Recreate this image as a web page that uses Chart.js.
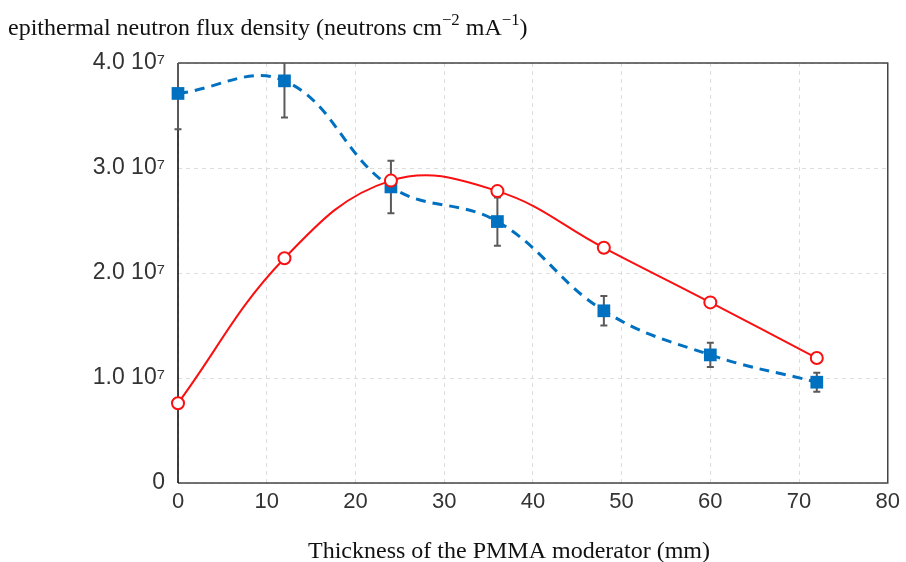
<!DOCTYPE html>
<html lang="en">
<head>
    <meta charset="UTF-8">
    <title>Epithermal neutron flux vs PMMA thickness</title>
    <script src="https://cdn.jsdelivr.net/npm/chart.js"></script>
    <style>
        body { margin: 0; padding: 0; background: #fff; }
        .wrap { width: 906px; height: 562px; }
    </style>
</head>
<body>
    <div class="wrap"><canvas id="fluxChart" width="906" height="562"></canvas></div>

    <script>
        // Data
        const thickness = [0, 12, 24, 36, 48, 60, 72];
        const measured = [3.71e7, 3.83e7, 2.82e7, 2.49e7, 1.64e7, 1.22e7, 0.96e7];
        const measuredErr = [0.34e7, 0.35e7, 0.25e7, 0.23e7, 0.14e7, 0.115e7, 0.09e7];
        const simulated = [0.76e7, 2.14e7, 2.88e7, 2.78e7, 2.24e7, 1.72e7, 1.19e7];
        const yTicks = [0, 1e7, 2e7, 3e7, 4e7];

        const sansFont = "'Liberation Sans', Arial, sans-serif";
        const serifFont = "'Liberation Serif', 'Times New Roman', serif";

        // draw a run of text pieces, some raised as superscripts
        function drawRich(ctx, parts, x, y, size, align) {
            ctx.save();
            ctx.textBaseline = 'alphabetic';
            ctx.textAlign = 'left';
            let total = 0;
            parts.forEach(p => {
                ctx.font = (p.sup ? size * 0.7 : size) + 'px ' + serifFont;
                p.w = ctx.measureText(p.t).width;
                total += p.w;
            });
            let cx = align === 'center' ? x - total / 2 : x;
            parts.forEach(p => {
                ctx.font = (p.sup ? size * 0.7 : size) + 'px ' + serifFont;
                ctx.fillText(p.t, cx, p.sup ? y - size * 0.42 : y);
                cx += p.w;
            });
            ctx.restore();
        }

        const framePlugin = {
            id: 'frameAndErrors',
            beforeDatasetsDraw(chart) {
                const { ctx, chartArea: a, scales } = chart;
                ctx.save();
                // plot frame
                ctx.strokeStyle = '#444';
                ctx.lineWidth = 1.5;
                ctx.beginPath();
                ctx.moveTo(a.left, a.top);
                ctx.lineTo(a.right, a.top);
                ctx.lineTo(a.right, a.bottom);
                ctx.lineTo(a.left, a.bottom);
                ctx.stroke();
                ctx.strokeStyle = '#000';
                ctx.beginPath();
                ctx.moveTo(a.left, a.top);
                ctx.lineTo(a.left, a.bottom);
                ctx.stroke();

                // error bars on measured values
                ctx.beginPath();
                ctx.rect(a.left - 10, a.top, a.right - a.left + 20, a.bottom - a.top);
                ctx.clip();
                ctx.strokeStyle = '#5a5a5a';
                ctx.lineWidth = 2;
                thickness.forEach((t, i) => {
                    const px = scales.x.getPixelForValue(t);
                    const hi = scales.y.getPixelForValue(measured[i] + measuredErr[i]);
                    const lo = scales.y.getPixelForValue(measured[i] - measuredErr[i]);
                    ctx.beginPath();
                    ctx.moveTo(px, hi); ctx.lineTo(px, lo);
                    ctx.moveTo(px - 3.5, hi); ctx.lineTo(px + 3.5, hi);
                    ctx.moveTo(px - 3.5, lo); ctx.lineTo(px + 3.5, lo);
                    ctx.stroke();
                });
                ctx.restore();
            },
            afterDraw(chart) {
                const { ctx } = chart;
                ctx.fillStyle = '#111';
                drawRich(ctx, [
                    { t: 'epithermal neutron flux density (neutrons cm' },
                    { t: '\u22122', sup: true },
                    { t: ' mA' },
                    { t: '\u22121', sup: true },
                    { t: ')' }
                ], 8, 35, 24, 'left');
                drawRich(ctx, [{ t: 'Thickness of the PMMA moderator (mm)' }], 509, 558, 24, 'center');
            }
        };

        const ctx = document.getElementById('fluxChart').getContext('2d');

        new Chart(ctx, {
            type: 'line',
            data: {
                datasets: [{
                    label: 'Simulated',
                    data: thickness.map((t, i) => ({ x: t, y: simulated[i] })),
                    borderColor: '#fa1010',
                    borderWidth: 2,
                    tension: 0.4,
                    pointStyle: 'circle',
                    pointRadius: 6,
                    pointBorderWidth: 2,
                    pointBackgroundColor: '#fff',
                    pointBorderColor: '#fa1010',
                    clip: false
                }, {
                    label: 'Measured',
                    data: thickness.map((t, i) => ({ x: t, y: measured[i] })),
                    borderColor: '#0070c0',
                    borderWidth: 3,
                    borderDash: [10, 7],
                    tension: 0.4,
                    pointStyle: 'rect',
                    pointRadius: 9,
                    pointBorderWidth: 0,
                    pointBackgroundColor: '#0070c0',
                    pointBorderColor: '#0070c0',
                    clip: false
                }]
            },
            options: {
                responsive: false,
                animation: false,
                layout: { padding: { top: 63, right: 16, left: 0, bottom: 0 } },
                plugins: {
                    legend: { display: false },
                    tooltip: { enabled: false }
                },
                scales: {
                    x: {
                        type: 'linear',
                        min: 0,
                        max: 80,
                        ticks: {
                            stepSize: 10,
                            padding: 6,
                            color: '#333',
                            font: { family: sansFont, size: 22 }
                        },
                        grid: { color: '#dddddd', drawTicks: false },
                        border: { display: false, dash: [4, 4] },
                        afterFit(scale) { scale.height = 79; }
                    },
                    y: {
                        type: 'linear',
                        min: 0,
                        max: 4e7,
                        afterBuildTicks(scale) { scale.ticks = yTicks.map(v => ({ value: v })); },
                        ticks: {
                            padding: 13,
                            color: '#333',
                            font: { family: sansFont, size: 23 },
                            callback: v => v === 0 ? '0' : (v / 1e7).toFixed(1) + ' 10\u2077'
                        },
                        grid: { color: '#dddddd', drawTicks: false },
                        border: { display: false, dash: [4, 4] },
                        afterFit(scale) { scale.width = 178; }
                    }
                }
            },
            plugins: [framePlugin]
        });
    </script>
</body>
</html>
